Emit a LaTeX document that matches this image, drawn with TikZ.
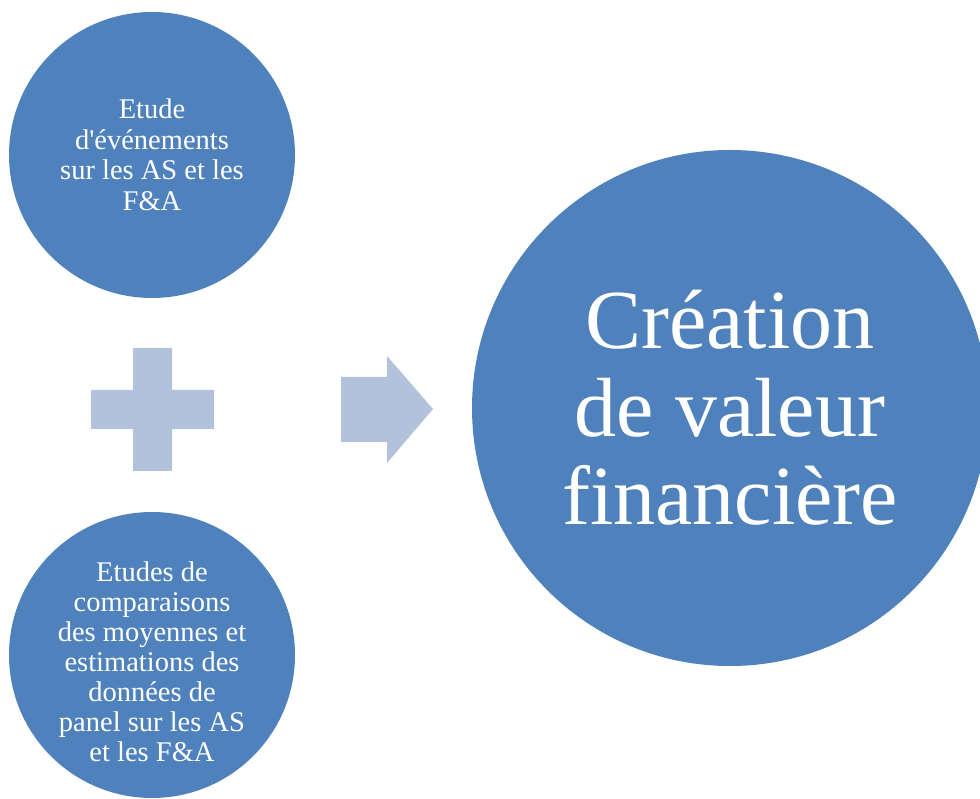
\documentclass[tikz,border=0pt]{standalone}
\usepackage{fontspec}
\setmainfont{Liberation Serif}[Ligatures=TeXOff]
\usepackage{tikz}
\definecolor{rond}{HTML}{4F81BD}
\definecolor{pale}{HTML}{B3C2DB}
\tikzset{
  rond/.style={circle, fill=rond, text=white, align=center, inner sep=0pt},
  petit/.style={rond, minimum size=286pt, font=\fontsize{28.5}{30.5}\selectfont},
  grand/.style={rond, minimum size=516pt, font=\fontsize{84}{88}\selectfont}
}

\begin{document}
\begin{tikzpicture}[x=1pt,y=1pt]
      \useasboundingbox (0,0) rectangle (980,798);
      \node [petit] (1) at (152,643) {Etude\\d'événements\\sur les AS et les\\F\&A};
      \node [petit] (2) at (152,143) {};
      \node [text=white, align=center, font=\fontsize{28.5}{30}\selectfont] (2t)
        at ([yshift=-7pt]2.center) {Etudes de\\comparaisons\\des moyennes et\\estimations des\\données de\\panel sur les AS\\et les F\&A};
      \node [grand] (3) at (730,390) {Création\\de valeur\\financière};

      % signe plus et fleche
      \fill[pale] (91,369) -- (133,369) -- (133,450) -- (172,450) -- (172,369) -- (214,369)
        -- (214,408) -- (172,408) -- (172,327) -- (133,327) -- (133,408) -- (91,408) -- cycle;
      \fill[pale] (341,421) -- (387,421) -- (387,442) -- (433,389) -- (387,335)
        -- (387,356) -- (341,356) -- cycle;
    \end{tikzpicture}
\end{document}
